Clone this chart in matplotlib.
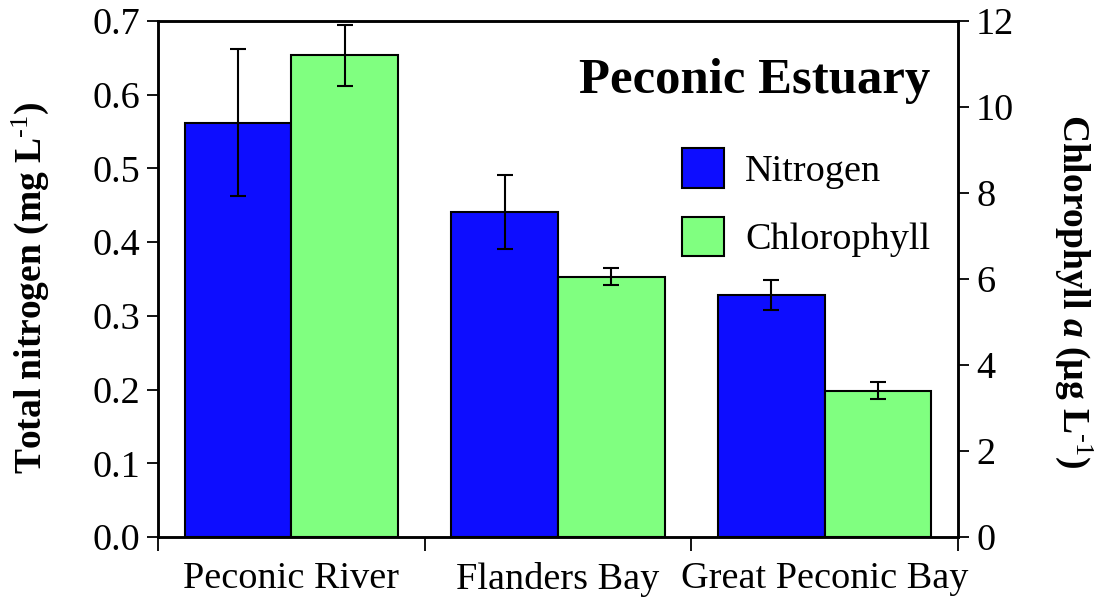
import numpy as np
import matplotlib
matplotlib.use('Agg')
import matplotlib.pyplot as plt
from matplotlib.patches import Patch

plt.rcParams['font.family'] = ['Liberation Serif', 'DejaVu Serif']
plt.rcParams['mathtext.fontset'] = 'custom'
plt.rcParams['mathtext.rm'] = 'Liberation Serif'
plt.rcParams['mathtext.it'] = 'Liberation Serif:bold:italic'
plt.rcParams['mathtext.bf'] = 'Liberation Serif:bold'
plt.rcParams['mathtext.default'] = 'regular'

# --- data ---
sites = ['Peconic River', 'Flanders Bay', 'Great Peconic Bay']
nitrogen = [0.562, 0.441, 0.328]
nitrogen_err = [0.100, 0.050, 0.020]
chlorophyll = [11.2, 6.05, 3.40]
chlorophyll_err = [0.70, 0.20, 0.20]

blue = '#0d0dff'
green = '#80ff80'

fig = plt.figure(figsize=(10.94, 6.01), dpi=100)
ax = fig.add_axes([0.1444, 0.1065, 0.7313, 0.8585])
ax2 = ax.twinx()

x = np.arange(len(sites))
w = 0.4

ax.bar(x - w / 2, nitrogen, w, color=blue, edgecolor='black', linewidth=1.5,
       yerr=nitrogen_err, capsize=6, error_kw=dict(elinewidth=1.5, capthick=1.5, ecolor='black'),
       zorder=3)
ax2.bar(x + w / 2, chlorophyll, w, color=green, edgecolor='black', linewidth=1.5,
        yerr=chlorophyll_err, capsize=6, error_kw=dict(elinewidth=1.5, capthick=1.5, ecolor='black'),
        zorder=3)

ax.set_xlim(-0.5, 2.5)
ax.set_ylim(0, 0.7)
ax2.set_ylim(0, 12)

ax.set_yticks(np.arange(0, 0.71, 0.1))
ax.set_yticklabels([f'{v:.1f}' for v in np.arange(0, 0.71, 0.1)])
ax2.set_yticks(np.arange(0, 13, 2))

ax.set_xticks(x)
ax.set_xticklabels(sites)
ax.set_xticks([-0.5, 0.5, 1.5, 2.5], minor=True)
ax.tick_params(axis='x', which='major', length=0, labelsize=27.5, pad=18)
ax.tick_params(axis='x', which='minor', length=10, width=1.3, direction='out', pad=3)
ax.tick_params(axis='y', labelsize=27.5, length=8, width=1.3, direction='out', pad=5)
ax2.tick_params(axis='y', labelsize=27.5, length=8, width=1.3, direction='out', pad=5)

for a in (ax, ax2):
    for s in a.spines.values():
        s.set_linewidth(1.8)

# axis titles placed in figure pixels
fig.text(30 / 1094, 1 - 288 / 601, 'Total nitrogen (mg L$^{\\text{-1}}$)', rotation=90,
         ha='center', va='center', fontsize=27, fontweight='bold')
fig.text(1074 / 1094, 1 - 291 / 601, 'Chlorophyll $\\mathit{a}$ (µg L$^{\\text{-1}}$)', rotation=270,
         ha='center', va='center', fontsize=27, fontweight='bold')

ax2.text(0.965, 0.884, 'Peconic Estuary', transform=ax2.transAxes, ha='right', va='center',
         fontsize=36.5, fontweight='bold')

handles = [Patch(facecolor=blue, edgecolor='black', linewidth=1.5),
           Patch(facecolor=green, edgecolor='black', linewidth=1.5)]
ax2.legend(handles, ['Nitrogen', 'Chlorophyll'], loc='upper left', bbox_to_anchor=(0.655, 0.753),
           frameon=False, fontsize=27.5, handlelength=1.1, handleheight=1.2, handletextpad=0.55,
           labelspacing=0.73, borderpad=0, borderaxespad=0)

fig.savefig('out.png', dpi=100)
